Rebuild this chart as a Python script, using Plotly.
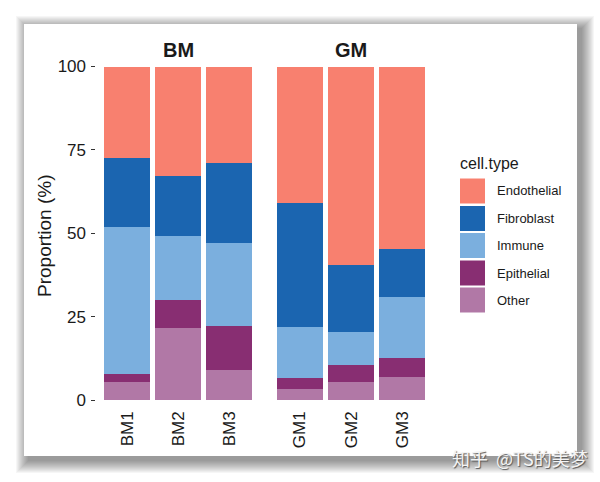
import plotly.graph_objects as go

# ---------------- data ----------------
bm_samples = ["BM1", "BM2", "BM3"]
gm_samples = ["GM1", "GM2", "GM3"]
cell_types = ["Endothelial", "Fibroblast", "Immune", "Epithelial", "Other"]
colors = ["#F8806F", "#1B65B0", "#7BAFDE", "#882E72", "#B178A6"]

# proportions (%) per cell type, stacked bottom -> top: Other, Epithelial, Immune, Fibroblast, Endothelial
bm_other = [5.3, 21.7, 9.0]
bm_epithelial = [2.5, 8.2, 13.2]
bm_immune = [44.1, 19.4, 24.9]
bm_fibroblast = [20.7, 17.9, 24.1]
bm_endothelial = [27.4, 32.8, 28.8]

gm_other = [3.2, 5.3, 6.8]
gm_epithelial = [3.5, 5.2, 5.7]
gm_immune = [15.3, 9.8, 18.4]
gm_fibroblast = [37.2, 20.3, 14.3]
gm_endothelial = [40.8, 59.4, 54.8]

bm_values = {"Other": bm_other, "Epithelial": bm_epithelial, "Immune": bm_immune,
             "Fibroblast": bm_fibroblast, "Endothelial": bm_endothelial}
gm_values = {"Other": gm_other, "Epithelial": gm_epithelial, "Immune": gm_immune,
             "Fibroblast": gm_fibroblast, "Endothelial": gm_endothelial}
color_map = dict(zip(cell_types, colors))

W, H = 600, 482
def px(x):
    return x / W
def py(y):
    return 1 - y / H

FONT = "Liberation Sans, Arial, sans-serif"

fig = go.Figure()
stack_order = ["Other", "Epithelial", "Immune", "Fibroblast", "Endothelial"]
for ct in stack_order:
    fig.add_trace(go.Bar(x=bm_samples, y=bm_values[ct], name=ct, marker_color=color_map[ct],
                         marker_line_width=0, width=0.9, xaxis="x", yaxis="y",
                         showlegend=False))
    fig.add_trace(go.Bar(x=gm_samples, y=gm_values[ct], name=ct, marker_color=color_map[ct],
                         marker_line_width=0, width=0.9, xaxis="x2", yaxis="y",
                         showlegend=False))

# ---------------- card with shadow ----------------
shapes = []
cx0, cy0, cx1, cy1 = 24, 24, 577, 456
N = 13
for i in range(N, 0, -1):
    shapes.append(dict(type="rect", xref="paper", yref="paper", layer="below",
                       x0=px(cx0 - i + 5), x1=px(cx1 + i + 4),
                       y0=py(cy1 + i + 4), y1=py(cy0 - i + 5),
                       line_width=0, fillcolor="rgba(0,0,0,0.035)"))
shapes.append(dict(type="rect", xref="paper", yref="paper", layer="below",
                   x0=px(cx0), x1=px(cx1), y0=py(cy1), y1=py(cy0),
                   line_width=0, fillcolor="white"))

# ---------------- custom legend ----------------
annotations = []
leg_x0, leg_x1 = 460, 485
row_centers = [191, 218.5, 245.5, 273, 300]
for ct, yc in zip(cell_types, row_centers):
    shapes.append(dict(type="rect", xref="paper", yref="paper",
                       x0=px(leg_x0), x1=px(leg_x1), y0=py(yc + 12.5), y1=py(yc - 12.5),
                       line_width=0, fillcolor=color_map[ct]))
    annotations.append(dict(text=ct, x=px(495), y=py(yc), xref="paper", yref="paper",
                            xanchor="left", yanchor="middle", showarrow=False,
                            font=dict(family=FONT, size=13, color="#1a1a1a")))
annotations.append(dict(text="cell.type", x=px(458), y=py(163), xref="paper", yref="paper",
                        xanchor="left", yanchor="middle", showarrow=False,
                        font=dict(family=FONT, size=16, color="#1a1a1a")))

# facet titles
annotations.append(dict(text="<b>BM</b>", x=px(178), y=py(50), xref="paper", yref="paper",
                        xanchor="center", yanchor="middle", showarrow=False,
                        font=dict(family=FONT, size=20, color="#1a1a1a")))
annotations.append(dict(text="<b>GM</b>", x=px(351), y=py(50), xref="paper", yref="paper",
                        xanchor="center", yanchor="middle", showarrow=False,
                        font=dict(family=FONT, size=20, color="#1a1a1a")))
# y-axis title
annotations.append(dict(text="Proportion (%)", x=px(44), y=py(236), xref="paper", yref="paper",
                        xanchor="center", yanchor="middle", showarrow=False, textangle=-90,
                        font=dict(family=FONT, size=19, color="#1a1a1a")))
# watermark
annotations.append(dict(text="知乎  @TS的美梦", x=px(520), y=py(458), xref="paper", yref="paper",
                        xanchor="center", yanchor="middle", showarrow=False,
                        font=dict(family="Noto Sans CJK SC", size=18, color="#f4f4f4",
                                  shadow="1px 1px 1px #555")))

axis_common = dict(type="category", range=[-0.6, 2.6], showgrid=False, zeroline=False,
                   showline=False, ticks="", tickangle=-90, ticklabelstandoff=7,
                   automargin=False,
                   tickfont=dict(family=FONT, size=17, color="#1a1a1a"), anchor="y")

fig.update_layout(
    template="none",
    width=W, height=H, margin=dict(l=0, r=0, t=0, b=0, pad=0, autoexpand=False),
    paper_bgcolor="white", plot_bgcolor="rgba(0,0,0,0)",
    barmode="stack", showlegend=False,
    xaxis=dict(domain=[px(96.4), px(260)], **axis_common),
    xaxis2=dict(domain=[px(269), px(433)], **axis_common),
    yaxis=dict(domain=[py(400), py(66.5)], range=[0, 100], tickvals=[0, 25, 50, 75, 100],
               showgrid=False, zeroline=False, showline=False, ticks="outside", ticklen=4,
               tickcolor="#333333", tickwidth=1, ticklabelstandoff=2, automargin=False,
               tickfont=dict(family=FONT, size=17, color="#1a1a1a"), anchor="x"),
    shapes=shapes, annotations=annotations,
)

fig.write_html("out.html")
